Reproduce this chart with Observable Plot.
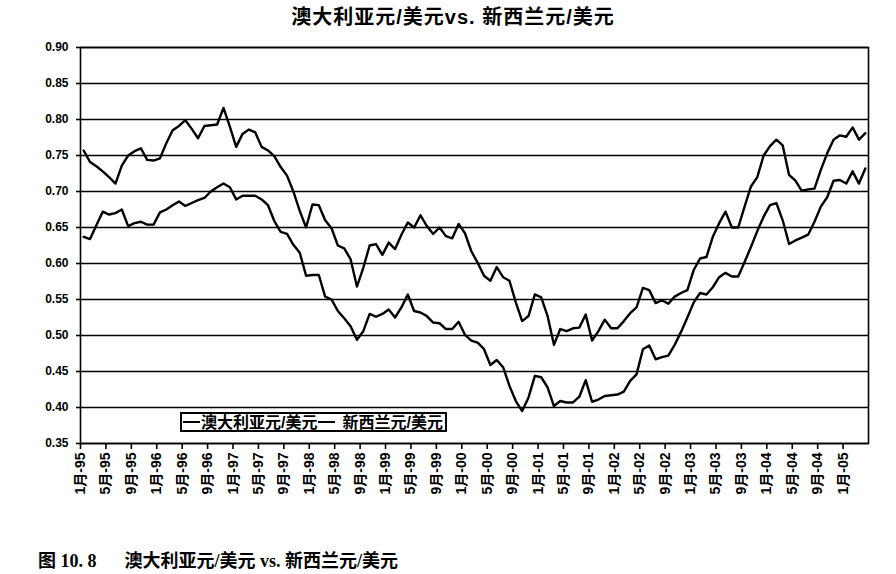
<!DOCTYPE html>
<html>
<head>
<meta charset="utf-8">
<script src="https://cdn.jsdelivr.net/npm/d3@7"></script>
<script src="https://cdn.jsdelivr.net/npm/@observablehq/plot@0.6"></script>
<style>
  html, body { margin: 0; padding: 0; background: #fff; }
  #page { position: relative; width: 896px; height: 574px; overflow: hidden; background: #fff; }
  #title { position: absolute; top: 6px; left: 10px; width: 886px; text-align: center;
    font: bold 20px/22px "Liberation Sans", "Noto Sans CJK SC", sans-serif; letter-spacing: 1px; color: #000; }
  #chart { position: absolute; top: 36px; left: 0; }
  #legend { position: absolute; left: 180px; top: 412px; width: 267px; height: 20px; box-sizing: border-box;
    border: 2px solid #000; background: #fff; display: flex; align-items: center; white-space: nowrap;
    font: bold 16px/17px "Liberation Sans", "Noto Sans CJK SC", sans-serif; color: #000; }
  #legend .sw { display: inline-block; width: 17px; height: 0; border-top: 2px solid #000; margin: 0 1px 0 1px; }
  #caption { position: absolute; left: 38px; top: 551px; white-space: pre;
    font: bold 18px/20px "Liberation Serif", "Noto Sans CJK SC", serif; color: #000; }
</style>
</head>
<body>
<div id="page">
  <div id="title">澳大利亚元/美元vs. 新西兰元/美元</div>
  <div id="chart"></div>
  <div id="legend"><span class="sw"></span><span>澳大利亚元/美元</span><span class="sw"></span><span style="margin-left:6px">新西兰元/美元</span></div>
  <div id="caption">图 10. 8<span style="margin-left:28px"></span>澳大利亚元/美元 vs. 新西兰元/美元</div>
</div>
<script>
// Monthly series, Jan 1995 – Apr 2005
const aud = [
  0.757,0.741,0.735,0.728,0.720,0.711,0.736,0.750,0.756,0.760,0.744,0.743,
  0.746,0.767,0.785,0.791,0.799,0.787,0.774,0.791,0.792,0.793,0.816,0.790,
  0.762,0.780,0.786,0.782,0.762,0.757,0.749,0.734,0.722,0.700,0.673,0.650,
  0.682,0.681,0.660,0.649,0.625,0.621,0.606,0.568,0.594,0.625,0.627,0.612,
  0.629,0.620,0.640,0.657,0.650,0.667,0.652,0.641,0.650,0.638,0.635,0.655,
  0.642,0.617,0.601,0.583,0.576,0.595,0.581,0.576,0.546,0.520,0.527,0.557,
  0.553,0.527,0.487,0.509,0.506,0.510,0.511,0.529,0.493,0.506,0.522,0.510,
  0.510,0.520,0.531,0.539,0.566,0.563,0.545,0.549,0.544,0.554,0.559,0.563,
  0.591,0.607,0.609,0.637,0.656,0.672,0.650,0.650,0.679,0.707,0.720,0.750,
  0.763,0.772,0.764,0.723,0.715,0.701,0.703,0.704,0.730,0.753,0.772,0.778,
  0.776,0.789,0.772,0.781
];
const nzd = [
  0.637,0.634,0.653,0.672,0.668,0.670,0.675,0.652,0.656,0.658,0.654,0.654,
  0.671,0.675,0.681,0.686,0.680,0.684,0.688,0.691,0.700,0.706,0.711,0.706,
  0.689,0.694,0.694,0.694,0.689,0.681,0.659,0.644,0.641,0.626,0.615,0.583,
  0.584,0.584,0.554,0.550,0.534,0.524,0.513,0.494,0.506,0.530,0.526,0.530,
  0.536,0.525,0.539,0.557,0.534,0.532,0.527,0.518,0.517,0.509,0.509,0.519,
  0.501,0.493,0.490,0.481,0.459,0.466,0.456,0.430,0.409,0.395,0.414,0.444,
  0.442,0.428,0.402,0.409,0.407,0.407,0.415,0.438,0.408,0.411,0.416,0.417,
  0.418,0.422,0.437,0.446,0.481,0.486,0.467,0.470,0.472,0.487,0.505,0.525,
  0.546,0.559,0.557,0.567,0.581,0.587,0.582,0.582,0.602,0.623,0.645,0.665,
  0.681,0.684,0.660,0.627,0.632,0.636,0.640,0.658,0.679,0.692,0.715,0.716,
  0.711,0.728,0.711,0.732
];
const xTickLabels = ["1月-95","5月-95","9月-95","1月-96","5月-96","9月-96","1月-97","5月-97","9月-97",
  "1月-98","5月-98","9月-98","1月-99","5月-99","9月-99","1月-00","5月-00","9月-00","1月-01","5月-01",
  "9月-01","1月-02","5月-02","9月-02","1月-03","5月-03","9月-03","1月-04","5月-04","9月-04","1月-05"];
const yTickLabels = ["0.35","0.40","0.45","0.50","0.55","0.60","0.65","0.70","0.75","0.80","0.85","0.90"];
const seriesNames = ["澳大利亚元/美元", "新西兰元/美元"];

const n = aud.length;
const rows = [];
aud.forEach((v, i) => rows.push({i, v, s: seriesNames[0]}));
nzd.forEach((v, i) => rows.push({i, v, s: seriesNames[1]}));
const yTicks = yTickLabels.map(Number);
const xTicks = xTickLabels.map((_, k) => k * 4 - 0.5); // category boundaries, every 4 months

const font = "'Liberation Sans', 'Noto Sans CJK SC', sans-serif";
const chart = Plot.plot({
  width: 896, height: 480,
  marginLeft: 80, marginRight: 28, marginTop: 11, marginBottom: 73,
  style: {background: "#fff", color: "#000", fontFamily: font, fontWeight: "bold", overflow: "visible"},
  x: {type: "linear", domain: [-0.5, n - 0.5], axis: null},
  y: {domain: [0.35, 0.90], axis: null},
  marks: [
    Plot.gridY(yTicks, {stroke: "#000", strokeOpacity: 1, strokeWidth: 1.6}),
    Plot.frame({stroke: "#000", strokeWidth: 1.6}),
    Plot.axisY(yTicks, {tickSize: 4, tickPadding: 8, label: null,
      tickFormat: (d) => yTickLabels[yTicks.indexOf(d)],
      fontSize: 12, fontWeight: "bold", stroke: "#000", strokeWidth: 1.6}),
    Plot.axisX(xTicks, {tickSize: 6, tickPadding: 3, tickRotate: -90, label: null,
      tickFormat: (t) => xTickLabels[Math.round((t + 0.5) / 4)],
      fontSize: 14, fontWeight: "bold", stroke: "#000", strokeWidth: 1.6}),
    Plot.line(rows, {x: "i", y: "v", z: "s", stroke: "#000", strokeWidth: 2.4, strokeLinejoin: "round"})
  ]
});
document.getElementById("chart").appendChild(chart);
</script>
</body>
</html>
